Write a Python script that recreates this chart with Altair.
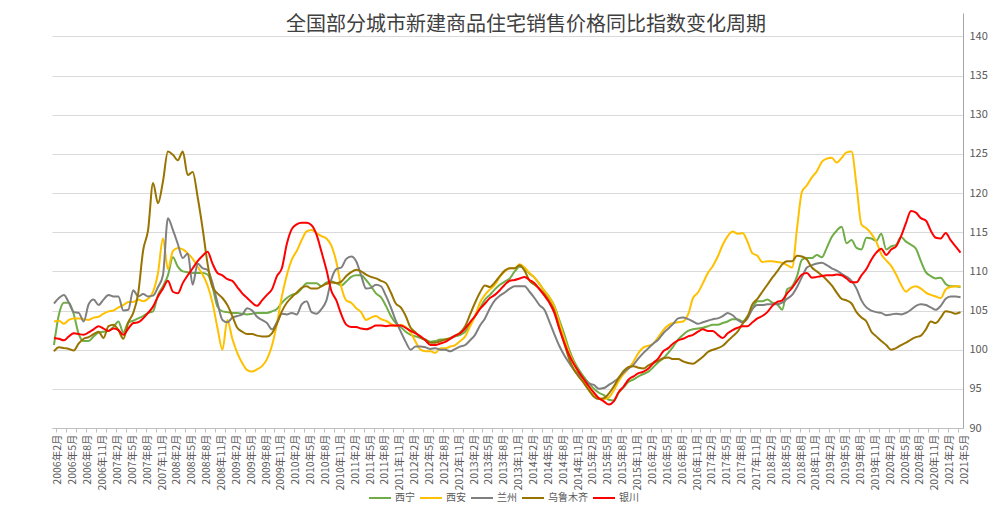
import altair as alt
import pandas as pd

FONT = "Noto Sans CJK SC"
title_text = "全国部分城市新建商品住宅销售价格同比指数变化周期"
cities = ["西宁", "西安", "兰州", "乌鲁木齐", "银川"]
colors = ["#70AD47", "#FFC000", "#7F7F7F", "#997300", "#FF0000"]

# monthly values, 2006年2月 .. 2021年5月 (184 months)
xining = [
    100.6, 104.5, 106.0, 106.0, 104.5, 102.0, 101.1, 101.1, 101.7, 102.2, 102.3, 102.4,
    102.9, 103.6, 102.2, 103.5, 103.7, 104.0, 104.3, 104.7, 104.9, 107.0, 108.1, 109.5,
    111.8, 110.6, 110.0, 109.9, 109.8, 109.8, 109.8, 109.6, 108.0, 105.5, 104.9, 104.8,
    104.7, 104.7, 104.6, 104.5, 104.6, 104.7, 104.7, 104.7, 104.9, 105.2, 106.0, 106.6,
    107.0, 107.2, 107.8, 108.5, 108.5, 108.5, 108.1, 108.6, 108.7, 108.5, 108.2, 108.7,
    109.3, 109.5, 109.5, 108.9, 108.1, 107.2, 106.7, 105.6, 104.3, 103.4, 102.9, 102.3,
    101.9, 101.7, 101.5, 101.3, 101.0, 101.1, 101.3, 101.3, 101.4, 101.7, 101.9, 102.3,
    103.2, 104.3, 105.3, 106.4, 107.0, 107.7, 108.3, 108.7, 109.1, 110.0, 110.6, 110.4,
    109.7, 109.2, 108.4, 107.5, 106.7, 105.6, 103.8, 102.0, 100.0, 98.5, 97.4, 96.5,
    95.7, 95.0, 94.5, 94.2, 93.6, 93.5, 94.5, 95.2, 95.9, 96.2, 96.6, 96.9,
    97.2, 97.8, 98.4, 98.9, 99.6, 100.4, 101.3, 101.9, 102.4, 102.6, 102.7, 102.8,
    103.0, 103.2, 103.2, 103.4, 103.6, 103.9, 103.9, 103.6, 104.3, 105.3, 106.2, 106.2,
    106.4, 106.0, 105.8, 105.1, 107.7, 108.1, 109.4, 111.5, 111.7, 111.7, 112.1, 111.8,
    113.0, 114.4, 115.2, 115.7, 113.6, 114.0, 113.0, 112.8, 114.3, 114.2, 113.9, 114.8,
    112.8, 113.2, 113.4, 114.4, 113.8, 113.4, 112.9, 111.3, 109.9, 109.4, 109.1, 109.2,
    108.4, 108.1, 108.1, 108.0,
]
xian = [
    103.6, 103.7, 103.3, 103.8, 104.0, 104.0, 103.9, 103.8, 104.1, 104.2, 104.6, 104.9,
    105.0, 105.4, 105.7, 106.1, 106.1, 106.4, 106.2, 106.5, 107.4, 109.8, 114.2, 110.3,
    112.6, 113.0, 112.8, 112.3, 111.6, 110.6, 109.6, 108.2, 106.0, 102.8, 100.0, 103.8,
    101.4, 99.6, 98.3, 97.4, 97.2, 97.5, 97.9, 98.8, 100.5, 103.3, 106.8, 109.5,
    111.5, 112.6, 114.0, 115.1, 115.3, 114.9, 114.5, 114.2, 113.3, 111.2, 108.0, 106.3,
    106.0, 105.3, 104.8, 103.8, 104.1, 104.3, 103.9, 103.7, 103.3, 103.0, 103.2, 102.9,
    102.2, 101.0, 100.0, 99.8, 99.8, 99.6, 100.2, 100.2, 100.4, 100.6, 101.1, 101.7,
    103.0, 104.3, 106.0, 107.0, 107.7, 108.3, 109.3, 110.0, 110.4, 110.4, 110.9, 110.5,
    109.8, 109.2, 108.4, 107.5, 106.7, 105.5, 103.5, 101.5, 99.6, 98.2, 96.8, 95.8,
    94.9, 94.1, 93.8, 93.7, 93.9, 94.8, 96.0, 96.9, 97.6, 98.5, 99.6, 100.3,
    100.5, 100.8, 101.6, 102.5, 103.1, 103.4, 103.5, 103.6, 104.5, 106.6, 107.3, 108.5,
    109.8, 110.7, 111.9, 113.4, 114.5, 115.1, 114.8, 114.9, 113.8, 112.3, 112.0, 111.2,
    111.3, 111.3, 111.2, 111.1, 110.8, 110.5, 115.5, 120.2, 121.0, 122.0, 122.8, 124.0,
    124.4, 124.5, 123.9, 124.5, 125.2, 125.3, 121.0, 116.0, 115.5, 114.8, 113.8, 112.2,
    111.4, 110.7, 109.6, 108.3, 107.4, 107.9, 108.1, 107.8, 107.3, 107.0, 106.8, 106.6,
    107.7, 108.0, 108.1, 108.1,
]
lanzhou = [
    105.9, 106.6, 107.0, 106.0, 104.8, 104.7, 103.6, 105.8, 106.4, 105.7, 106.4, 107.0,
    106.8, 106.8, 105.0, 105.1, 107.6, 106.8, 107.1, 106.8, 106.9, 108.0, 109.5, 116.8,
    115.3, 113.5, 111.7, 112.3, 108.3, 111.0, 110.4, 110.2, 108.5, 106.0, 103.8, 103.5,
    104.1, 104.3, 104.5, 105.3, 105.0, 104.2, 103.8, 103.4, 102.6, 103.5, 104.6, 104.5,
    104.7, 104.5, 105.8, 106.2, 104.8, 104.6, 105.2, 106.3, 109.0, 110.3, 110.5, 111.6,
    111.9, 111.3, 109.5, 107.8, 107.9, 108.3, 108.1, 106.9, 105.4, 103.7, 102.3, 101.0,
    100.0, 100.4, 100.4, 100.3, 100.1, 100.2, 100.0, 100.0, 99.8, 100.1, 100.4, 100.6,
    101.2, 101.9, 103.1, 104.0, 105.3, 106.3, 106.9, 107.3, 107.8, 108.1, 108.1, 108.1,
    107.4, 106.6, 105.7, 105.1, 103.6, 102.0, 100.5, 99.3, 98.3, 97.4, 96.8, 96.2,
    95.7, 95.5, 95.0, 95.1, 95.5, 95.9, 96.4, 97.1, 97.6, 98.1, 98.9, 99.6,
    100.2, 100.8, 101.3, 102.1, 102.7, 103.3, 104.0, 104.1, 103.9, 103.6, 103.3, 103.5,
    103.7, 103.9, 104.0, 104.3, 104.7, 104.4, 103.8, 103.5, 104.0, 105.2, 105.7, 105.7,
    105.8, 105.8, 105.8, 106.0, 106.5, 107.0, 108.0, 109.3, 110.5, 110.8, 111.0, 111.1,
    110.8, 110.4, 110.1, 109.7, 109.3, 108.8, 107.8, 106.3, 105.4, 105.0, 104.8, 104.7,
    104.4, 104.5, 104.6, 104.5, 104.7, 105.1, 105.6, 105.8, 105.7, 105.4, 105.1, 105.6,
    106.5, 106.8, 106.8, 106.7,
]
urumqi = [
    99.8, 100.3, 100.2, 100.1, 99.9, 100.8, 101.4, 101.6, 102.0, 102.3, 101.5, 103.0,
    103.2, 102.5, 101.4, 103.5, 104.7, 107.2, 112.7, 115.3, 121.3, 118.7, 121.5, 125.3,
    124.9, 124.2, 125.3, 122.3, 122.7, 119.5, 115.5, 111.0, 108.0, 107.2, 106.6, 105.7,
    104.3, 102.8, 102.3, 102.0, 102.0, 101.8, 101.7, 101.7, 102.1, 103.3, 104.9, 106.0,
    106.7, 107.3, 107.9, 108.1, 107.8, 107.8, 108.1, 108.4, 108.6, 108.5, 108.7, 109.4,
    109.9, 110.2, 110.0, 109.6, 109.3, 109.1, 108.8, 108.5, 107.3, 105.9, 105.4, 104.3,
    102.8, 102.2, 101.6, 101.2, 100.9, 100.9, 101.1, 101.3, 101.5, 101.8, 102.2, 103.0,
    104.5, 106.0, 107.3, 108.2, 108.0, 108.6, 109.4, 110.1, 110.4, 110.4, 110.8, 110.1,
    108.8, 108.3, 107.8, 107.1, 106.2, 105.0, 102.8, 100.8, 98.8, 97.4, 96.5, 95.7,
    94.8, 94.0, 93.7, 93.8, 94.4, 95.3, 96.4, 97.3, 97.8, 97.9, 97.7, 97.6,
    98.0, 98.3, 98.6, 98.9, 99.0, 98.8, 98.8, 98.5, 98.3, 98.2, 98.6, 99.1,
    99.7, 100.0, 100.2, 100.5, 101.1, 101.7, 102.3, 103.3, 104.2, 105.8, 106.5, 107.4,
    108.3, 109.2, 110.0, 110.9, 111.3, 111.3, 112.0, 111.9, 111.5, 110.5, 110.0, 109.5,
    108.9, 108.2, 107.3, 106.5, 106.3, 105.9, 104.8, 104.1, 103.6, 102.3, 101.7, 101.1,
    100.6, 100.0, 100.2, 100.6, 100.9, 101.3, 101.6, 101.8, 102.6, 103.6, 103.4, 104.1,
    104.9, 104.8, 104.6, 104.8,
]
yinchuan = [
    101.5, 101.4, 101.2, 101.7, 102.1, 102.0, 101.9, 102.2, 102.6, 103.0, 102.7, 102.4,
    102.7, 102.5, 101.9, 102.7, 103.4, 103.5, 104.0, 104.7, 105.5, 106.8, 107.8, 108.8,
    107.4, 107.2, 108.5, 109.5, 110.4, 111.3, 112.0, 112.5, 111.0, 109.8, 109.5, 109.0,
    108.8, 108.0, 107.2, 106.6, 106.0, 105.6, 106.3, 107.0, 107.7, 109.4, 110.4, 113.5,
    115.4, 116.0, 116.2, 116.2, 115.9, 114.7, 112.5, 110.2, 107.5, 106.3, 104.5, 103.2,
    102.9, 102.9, 102.7, 102.6, 102.8, 103.1, 103.1, 103.0, 103.1, 103.1, 103.1, 102.8,
    102.4, 102.1, 101.7, 101.2, 100.6, 100.6, 100.8, 101.0, 101.4, 101.8, 102.1, 102.7,
    103.5, 104.3, 105.2, 105.9, 106.6, 107.0, 107.6, 108.3, 108.8, 108.9, 109.1, 109.3,
    108.9, 108.5, 107.7, 106.9, 106.0, 104.7, 102.7, 100.9, 99.3, 98.1, 97.1, 96.2,
    95.3, 94.5, 93.8, 93.4, 93.0, 93.4, 94.6, 95.3, 96.2, 96.6, 97.0, 97.2,
    97.6, 98.3, 98.9, 99.8, 100.2, 100.8, 101.2, 101.4, 101.7, 101.9, 102.3, 102.6,
    102.4, 102.4, 101.9, 101.5, 102.1, 102.5, 102.8, 103.0, 103.0, 103.5, 104.0, 104.3,
    104.8, 105.6, 106.1, 106.3, 107.2, 107.9, 108.8, 109.6, 109.8, 109.2, 109.3, 109.4,
    109.5, 109.5, 109.6, 109.5, 109.1, 108.6, 108.6, 109.5, 110.3, 111.5, 112.4, 112.9,
    112.1, 112.8, 113.2, 114.5, 116.2, 117.7, 117.5, 116.8, 116.5, 115.2, 114.3, 114.2,
    114.9, 114.0, 113.2, 112.4,
]

series = [xining, xian, lanzhou, urumqi, yinchuan]
rows = []
for name, vals in zip(cities, series):
    for i, v in enumerate(vals):
        rows.append({"i": i, "city": name, "value": v})
df = pd.DataFrame(rows)

n = len(xining)
label_values = list(range(0, n, 3))
tick_values = [k + 0.5 for k in range(0, n - 1, 2)]
label_expr = ("(2006 + floor((datum.value + 1) / 12)) + '年' + "
              "(((datum.value + 1) % 12) + 1) + '月'")

xscale = alt.Scale(domain=[-0.4, n - 0.5], nice=False, zero=False)
yscale = alt.Scale(domain=[90, 143], nice=False, zero=False)
y_axis = alt.Axis(
    orient="right", values=list(range(90, 141, 5)), grid=True, gridColor="#D9D9D9",
    gridWidth=1, domainColor="#A6A6A6", domainWidth=1, ticks=False,
    labelFont=FONT, labelFontSize=11, labelColor="#595959", labelPadding=6,
    title=None)

lines = alt.Chart(df).mark_line(strokeWidth=2, interpolate="monotone").encode(
    x=alt.X("i:Q", scale=xscale, axis=alt.Axis(
        orient="bottom", values=label_values, labelExpr=label_expr, labelAngle=-90,
        labelFont=FONT, labelFontSize=10.5, labelColor="#595959", labelOffset=4,
        labelPadding=6, labelFlush=False, labelOverlap=False, ticks=False,
        domain=True, domainColor="#BFBFBF", domainWidth=1, grid=False, title=None)),
    y=alt.Y("value:Q", scale=yscale, axis=y_axis),
    color=alt.Color("city:N", scale=alt.Scale(domain=cities, range=colors),
                    legend=alt.Legend(orient="none", legendX=316, legendY=473,
                                      direction="horizontal", title=None,
                                      symbolType="stroke", symbolSize=484,
                                      symbolStrokeWidth=2, labelFont=FONT,
                                      labelFontSize=10, labelColor="#595959",
                                      labelOffset=3, columnPadding=1, padding=0)),
    detail="city:N",
)

ticks_layer = alt.Chart(df).mark_line(opacity=0).encode(
    x=alt.X("i:Q", scale=xscale, axis=alt.Axis(
        orient="bottom", values=tick_values, labels=False, domain=False, grid=False,
        ticks=True, tickSize=4, tickColor="#BFBFBF", title=None)),
    y=alt.Y("value:Q", scale=yscale, axis=y_axis),
    detail="city:N",
)

title_df = pd.DataFrame({"t": [title_text]})
title = alt.Chart(title_df).mark_text(
    font=FONT, fontSize=20, color="#404040", align="center", baseline="middle"
).encode(text="t:N", x=alt.value(474), y=alt.value(12))

chart = alt.layer(lines, ticks_layer, title).resolve_axis(x="independent").properties(
    width=911, height=415,
    autosize=alt.AutoSizeParams(type="none"),
    padding={"left": 44, "top": 5, "right": 29, "bottom": 75},
    background="white",
).configure_view(strokeWidth=0)

chart.save("out.html", embed_options={"renderer": "svg", "actions": False})
